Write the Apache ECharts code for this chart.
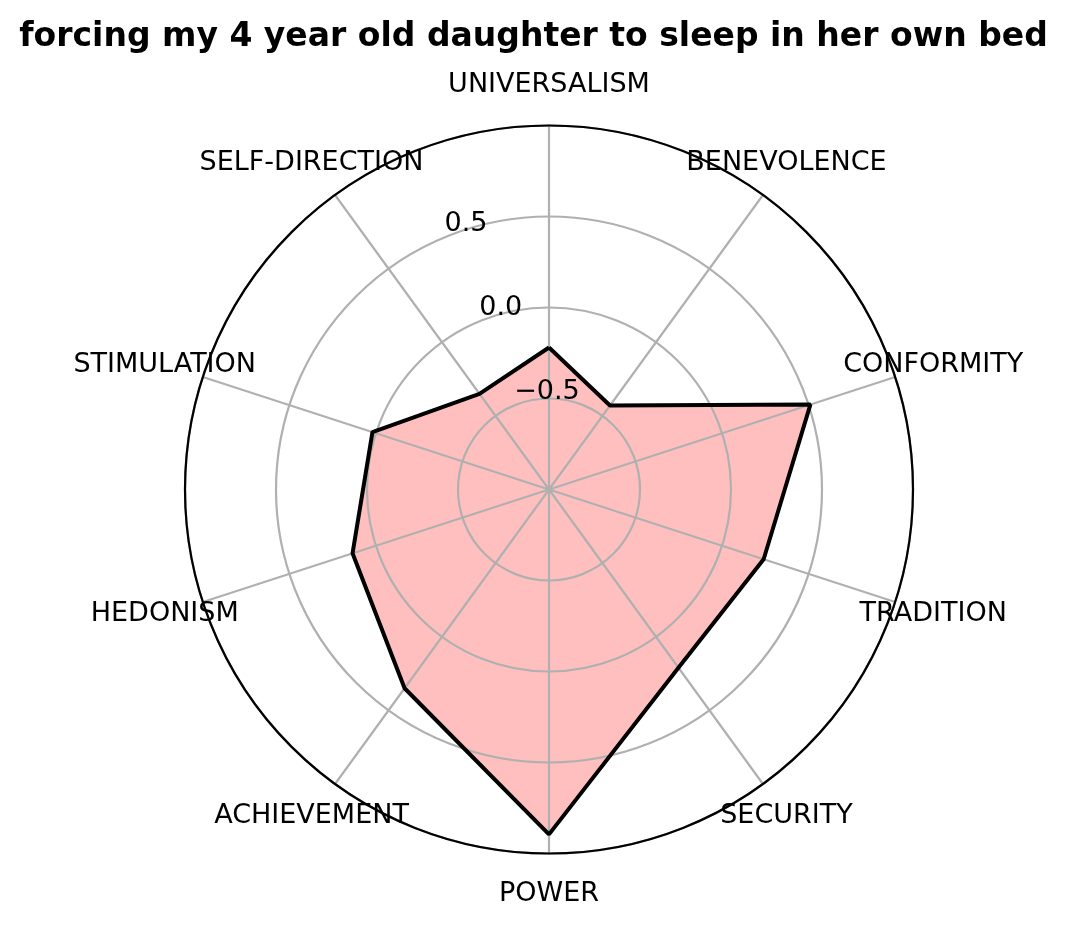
<!DOCTYPE html>
<html>
<head>
	<meta charset="utf-8">
	<script src="https://cdn.jsdelivr.net/npm/echarts@6/dist/echarts.min.js"></script>
	<title>radar</title>
	<style>
		html, body { margin: 0; padding: 0; background: #fff; }
		#c { width: 1067px; height: 928px; }
	</style>
</head>
<body>
	<div id="c"></div>
	<script>
		var titleText = 'forcing my 4 year old daughter to sleep in her own bed';
		var categories = ['UNIVERSALISM', 'BENEVOLENCE', 'CONFORMITY', 'TRADITION', 'SECURITY',
			'POWER', 'ACHIEVEMENT', 'HEDONISM', 'STIMULATION', 'SELF-DIRECTION'];
		var scores = [-0.22, -0.43, 0.51, 0.24, 0.21, 0.895, 0.35, 0.135, 0.02, -0.35];
		var rMin = -1, rMax = 1, rStep = 0.5;
		var labelRadius = 1.22; // where the category names sit, in data units

		var font = 'DejaVu Sans';
		var center = [549, 489.5];
		var radius = 364;
		var n = categories.length;

		// angle axis runs 0..n so the last spoke meets the first one; close the polygon
		var lineData = [];
		for (var i = 0; i < n; i++) {
			lineData.push([scores[i], i]);
		}
		lineData.push([scores[0], n]);

		var nameData = [];
		for (var j = 0; j < n; j++) {
			nameData.push({ name: categories[j], value: [labelRadius, j] });
		}

		var myChart = echarts.init(document.getElementById('c'));
		var option = {
			animation: false,
			title: {
				text: titleText,
				left: 'center',
				top: 16,
				textStyle: { fontFamily: font, fontSize: 33, fontWeight: 'bold', color: '#000', lineHeight: 33 }
			},
			polar: [
				{ center: center, radius: radius },
				{ center: center, radius: radius }
			],
			angleAxis: [
				{
					polarIndex: 0,
					type: 'value',
					min: 0,
					max: n,
					interval: 1,
					startAngle: 90,
					clockwise: true,
					z: 2,
					axisLine: { show: true, lineStyle: { color: '#000', width: 2.2 } },
					axisTick: { show: false },
					axisLabel: { show: false },
					splitLine: { show: true, lineStyle: { color: '#b0b0b0', width: 2.2 } }
				},
				{
					polarIndex: 1,
					type: 'value',
					min: 0,
					max: 360,
					startAngle: 112.5,
					show: false
				}
			],
			radiusAxis: [
				{
					polarIndex: 0,
					type: 'value',
					min: rMin,
					max: rMax,
					interval: rStep,
					z: 2,
					axisLine: { show: false },
					axisTick: { show: false },
					axisLabel: { show: false },
					splitLine: { show: true, lineStyle: { color: '#b0b0b0', width: 2.2 } }
				},
				{
					polarIndex: 1,
					type: 'value',
					min: rMin,
					max: rMax,
					interval: rStep,
					z: 4,
					axisLine: { show: false },
					axisTick: { show: false },
					splitLine: { show: false },
					axisLabel: {
						show: true,
						margin: 0,
						align: 'left',
						verticalAlign: 'bottom',
						color: '#000',
						fontFamily: font,
						fontSize: 27,
						formatter: function (v) {
							if (v <= rMin || v >= rMax) return '';
							return v.toFixed(1).replace('-', '\u2212');
						}
					}
				}
			],
			series: [
				{
					// fill only, kept under the grid
					type: 'line',
					coordinateSystem: 'polar',
					polarIndex: 0,
					data: lineData,
					symbol: 'none',
					lineStyle: { width: 0, opacity: 0 },
					areaStyle: { color: 'rgba(255,0,0,0.25)', opacity: 1, origin: 'start' },
					z: 1
				},
				{
					type: 'line',
					coordinateSystem: 'polar',
					polarIndex: 0,
					data: lineData,
					symbol: 'none',
					lineStyle: { color: '#000', width: 4 },
					z: 3
				},
				{
					type: 'scatter',
					coordinateSystem: 'polar',
					polarIndex: 0,
					clip: false,
					data: nameData,
					symbolSize: 1,
					itemStyle: { color: 'rgba(0,0,0,0)', opacity: 1 },
					label: {
						show: true,
						position: 'inside',
						formatter: '{b}',
						color: '#000',
						fontFamily: font,
						fontSize: 27
					},
					silent: true,
					z: 5
				}
			]
		};
		myChart.setOption(option);
	</script>
</body>
</html>
